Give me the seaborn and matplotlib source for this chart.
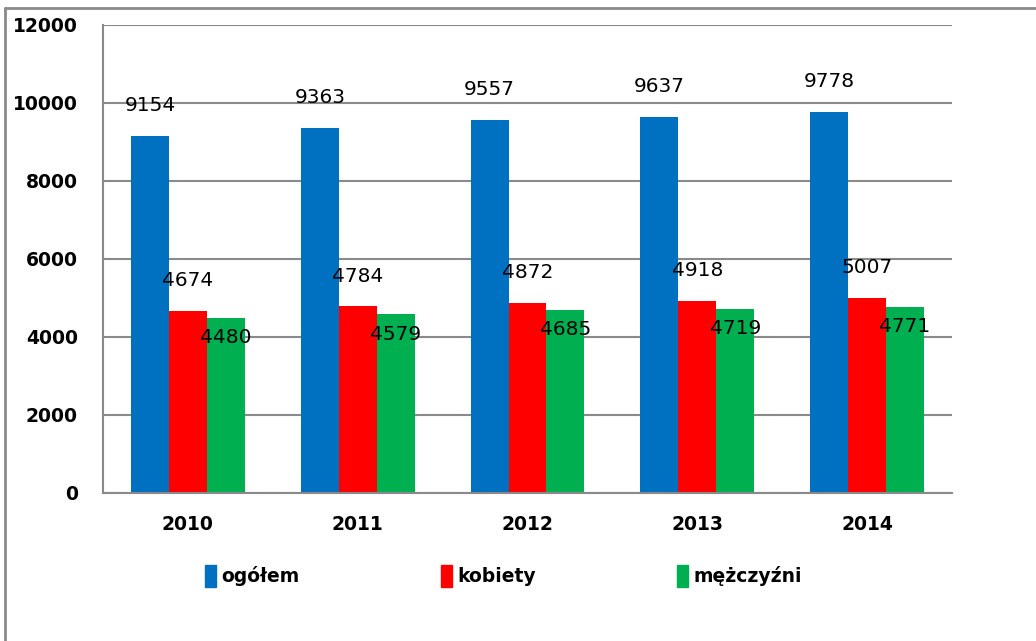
import matplotlib
matplotlib.use("Agg")
import matplotlib.pyplot as plt
import seaborn as sns
import pandas as pd
from matplotlib.lines import Line2D

years = ["2010", "2011", "2012", "2013", "2014"]
ogolem = [9154, 9363, 9557, 9637, 9778]
kobiety = [4674, 4784, 4872, 4918, 5007]
mezczyzni = [4480, 4579, 4685, 4719, 4771]
series = ["ogółem", "kobiety", "mężczyźni"]
colors = ["#0070C0", "#FF0000", "#00B050"]

df = pd.DataFrame({
    "rok": years * 3,
    "seria": [s for s in series for _ in years],
    "liczba": ogolem + kobiety + mezczyzni,
})

sns.set_style("white")
plt.rcParams["font.family"] = ["DejaVu Sans"]

fig = plt.figure(figsize=(10.36, 6.41), dpi=100)
ax = fig.add_axes([0.0994, 0.2309, 0.8196, 0.7301])

sns.barplot(data=df, x="rok", y="liczba", hue="seria", hue_order=series,
            palette=colors, width=0.67, gap=0, saturation=1, ax=ax,
            errorbar=None, legend=False, linewidth=0)

# data labels, Excel style offsets
pads = [15, 15, -21]
for cont, pad in zip(ax.containers, pads):
    ax.bar_label(cont, fmt="%d", padding=pad, fontsize=14.5, color="black")

ax.set_ylim(0, 12000)
ax.set_xlim(-0.5, 4.5)
ax.set_yticks(range(0, 12001, 2000))
ax.yaxis.grid(True, color="#8a8a8a", linewidth=1.5)
ax.set_axisbelow(True)
ax.set_xlabel("")
ax.set_ylabel("")

for s in ["top", "right"]:
    ax.spines[s].set_visible(False)
for s in ["left", "bottom"]:
    ax.spines[s].set_color("#8a8a8a")
    ax.spines[s].set_linewidth(1.5)

ax.tick_params(axis="y", length=8, width=1.5, color="#8a8a8a", pad=10,
               labelsize=13.5, labelcolor="black")
ax.tick_params(axis="x", which="major", length=0, pad=16, labelsize=13.5,
               labelcolor="black")
ax.set_xticks([i - 0.5 for i in range(6)], minor=True)
ax.tick_params(axis="x", which="minor", length=10, width=1.5,
               color="#8a8a8a", direction="out")
for lab in ax.get_xticklabels() + ax.get_yticklabels():
    lab.set_fontweight("bold")

handles = [plt.Rectangle((0, 0), 1, 1, color=c) for c in colors]
fig.legend(handles, series, loc="center", bbox_to_anchor=(0.486, 0.101),
           ncol=3, frameon=False, handlelength=0.6, handleheight=1.4,
           handletextpad=0.3, columnspacing=7.5,
           prop={"size": 13.5, "weight": "bold"}, labelcolor="black")

# frame of the original chart area
fig.add_artist(Line2D([5 / 1036, 1], [1 - 8 / 641, 1 - 8 / 641],
                      transform=fig.transFigure, color="#8a8a8a", lw=2))
fig.add_artist(Line2D([5 / 1036, 5 / 1036], [0, 1 - 8 / 641],
                      transform=fig.transFigure, color="#8a8a8a", lw=2))

fig.savefig("out.png", dpi=100)
